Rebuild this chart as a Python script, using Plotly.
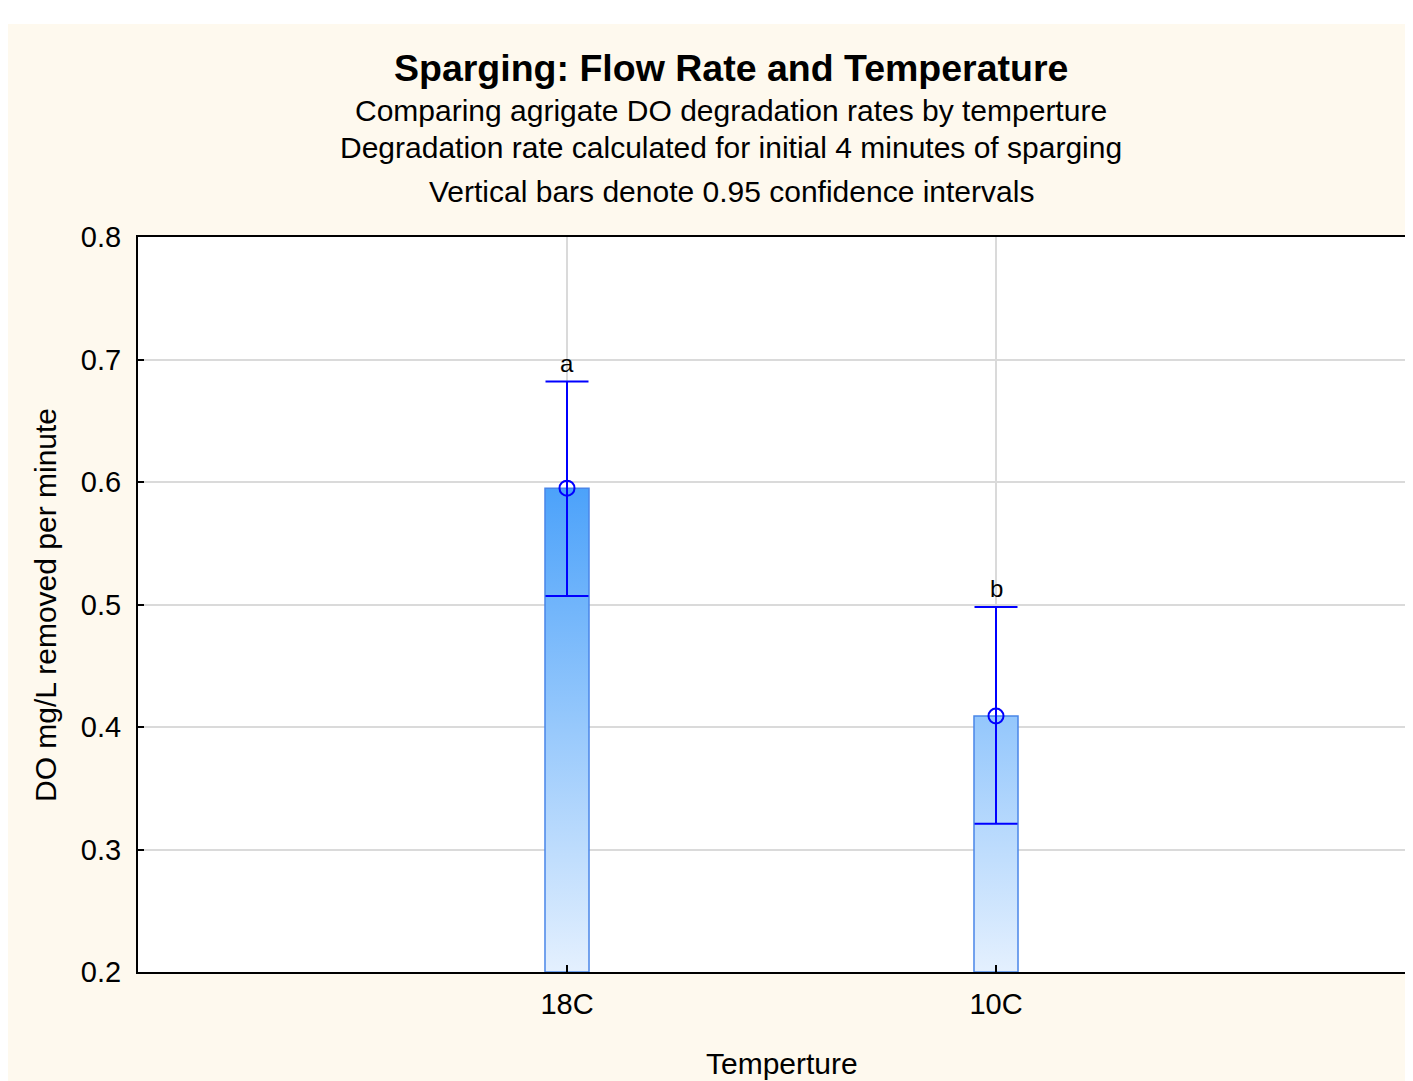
import plotly.graph_objects as go

# ---- data ----
categories = ["18C", "10C"]
means = [0.595, 0.409]
ci_lower = [0.507, 0.321]
ci_upper = [0.682, 0.498]
letters = ["a", "b"]
y_ticks = [0.2, 0.3, 0.4, 0.5, 0.6, 0.7, 0.8]

# page body has an 8px margin; work in screen pixels and convert
OFF = 8
W, H = 1413 - 2 * OFF, 1081 - OFF
ML = 138 - OFF
MT = 237 - OFF
MB = H - (972 - OFF)
MR = 0
PW, PH = W - ML - MR, H - MT - MB

cream = "#FEF9EE"
font_family = "Liberation Sans, Arial, sans-serif"
blue = "#0000FF"
bar_w = 0.1026
y_min, y_max = 0.2, 0.8
x_range = [-1, -1 + PW / 429.0]

positions = list(range(len(categories)))


def px_x(sx):
    return (sx - OFF - ML) / PW


def px_y(sy):
    return (H - MB - (sy - OFF)) / PH


fig = go.Figure()

# gradient-filled bars
for i, cat in enumerate(categories):
    p = positions[i]
    xs = [p - bar_w / 2, p + bar_w / 2, p + bar_w / 2, p - bar_w / 2, p - bar_w / 2]
    ys = [y_min, y_min, means[i], means[i], y_min]
    fig.add_trace(go.Scatter(
        x=xs, y=ys, mode="lines", fill="toself",
        line=dict(color="#4A86E8", width=1.5),
        fillgradient=dict(type="vertical", start=0.2, stop=0.6,
                          colorscale=[[0, "rgb(228,240,254)"], [1, "rgb(74,161,250)"]]),
        hoverinfo="skip", showlegend=False,
    ))

# means with CI
fig.add_trace(go.Scatter(
    x=positions, y=means, mode="markers",
    marker=dict(symbol="circle-open", size=15, color=blue, line=dict(width=2, color=blue)),
    error_y=dict(type="data", symmetric=False,
                 array=[u - m for u, m in zip(ci_upper, means)],
                 arrayminus=[m - l for m, l in zip(means, ci_lower)],
                 color=blue, thickness=2, width=21.5),
    showlegend=False,
))

# group letters
for p, u, t in zip(positions, ci_upper, letters):
    fig.add_annotation(x=p, y=u, text=t, xref="x", yref="y", showarrow=False,
                       xanchor="center", yanchor="bottom", yshift=3,
                       font=dict(size=24, color="black", family=font_family))

fig.update_xaxes(
    range=x_range, tickmode="array", tickvals=positions, ticktext=categories,
    showgrid=True, gridcolor="#DADADA", gridwidth=1.5, zeroline=False,
    showline=True, linecolor="black", linewidth=2, mirror=True,
    ticks="inside", ticklen=7, tickwidth=2, tickcolor="black",
    ticklabelstandoff=5,
    tickfont=dict(size=29, color="black", family=font_family),
)
fig.update_yaxes(
    range=[y_min, y_max], tickmode="array", tickvals=y_ticks,
    ticktext=[f"{v:.1f}" for v in y_ticks],
    showgrid=True, gridcolor="#DADADA", gridwidth=1.5, zeroline=False,
    showline=True, linecolor="black", linewidth=2, mirror=False,
    ticks="inside", ticklen=6, tickwidth=1.5, tickcolor="black",
    ticklabelstandoff=9,
    tickfont=dict(size=29, color="black", family=font_family),
)

annots = [
    dict(text="<b>Sparging: Flow Rate and Temperature</b>", x=px_x(731), y=px_y(68), size=37.5),
    dict(text="Comparing agrigate DO degradation rates by temperture", x=px_x(731), y=px_y(110), size=30),
    dict(text="Degradation rate calculated for initial 4 minutes of sparging", x=px_x(731), y=px_y(148), size=30),
    dict(text="Vertical bars denote 0.95 confidence intervals", x=px_x(731), y=px_y(192), size=30),
    dict(text="Temperture", x=px_x(782), y=px_y(1063), size=30),
]
for a in annots:
    fig.add_annotation(text=a["text"], x=a["x"], y=a["y"], xref="paper", yref="paper",
                       xanchor="center", yanchor="middle", showarrow=False,
                       font=dict(size=a["size"], color="black", family=font_family))
fig.add_annotation(text="DO mg/L removed per minute", x=px_x(45), y=px_y(605),
                   xref="paper", yref="paper", xanchor="center", yanchor="middle",
                   textangle=-90, showarrow=False,
                   font=dict(size=30, color="black", family=font_family))

# white strip at the top of the original picture
fig.add_shape(type="rect", xref="paper", yref="paper", x0=px_x(-20), x1=px_x(1500),
              y0=px_y(24), y1=px_y(-20), fillcolor="white", line=dict(width=0), layer="below")

fig.update_layout(
    width=W, height=H, margin=dict(l=ML, r=MR, t=MT, b=MB, pad=0),
    paper_bgcolor=cream, plot_bgcolor="white",
    font=dict(family=font_family, color="black"),
    showlegend=False,
)

fig.write_html("out.html")
